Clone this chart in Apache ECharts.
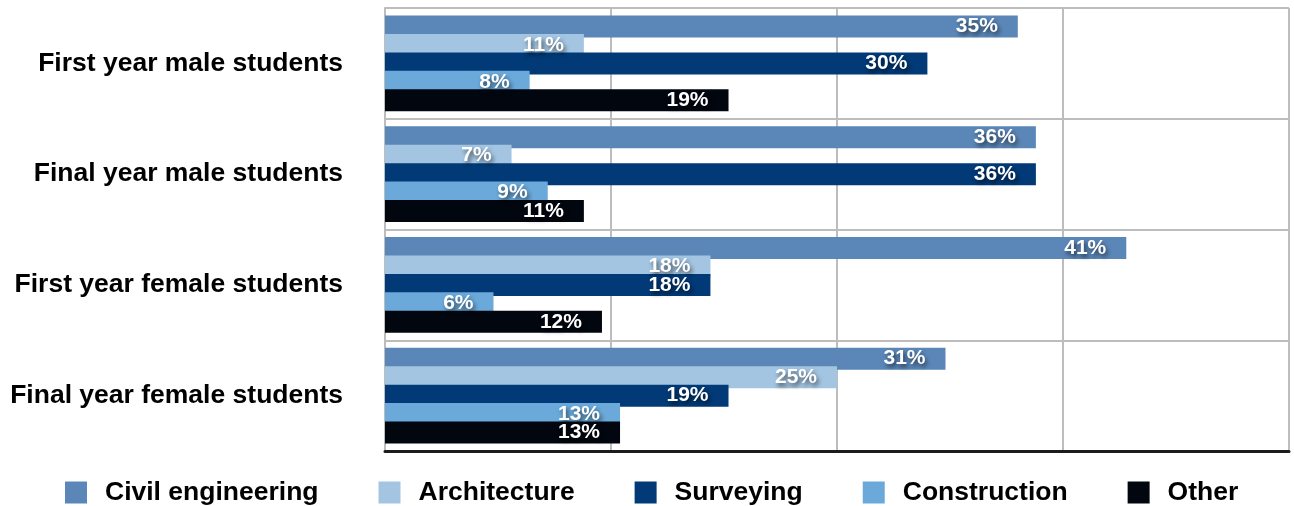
<!DOCTYPE html>
<html>
<head>
<meta charset="utf-8">
<style>
  html, body { margin: 0; padding: 0; background: #ffffff; }
  #chart { width: 1294px; height: 506px; }
</style>
<script src="https://cdn.jsdelivr.net/npm/echarts@6/dist/echarts.min.js"></script>
</head>
<body>
<div id="chart"></div>
<script>
// Student groups (top to bottom)
const categories = [
  'First year male students',
  'Final year male students',
  'First year female students',
  'Final year female students'
];

// Share of students per discipline, in percent
const civilEngineering = [35, 36, 41, 31];
const architecture     = [11, 7, 18, 25];
const surveying        = [30, 36, 18, 19];
const construction     = [8, 9, 6, 13];
const other            = [19, 11, 12, 13];

const seriesNames  = ['Civil engineering', 'Architecture', 'Surveying', 'Construction', 'Other'];
const seriesValues = [civilEngineering, architecture, surveying, construction, other];
const seriesColors = ['#5b87b8', '#a4c5e1', '#013a77', '#6aa9d9', '#02060f'];

const FONT = '"Liberation Sans", Arial, Helvetica, sans-serif';

const chart = echarts.init(document.getElementById('chart'), null, { renderer: 'canvas' });

chart.setOption({
  animation: false,
  backgroundColor: '#ffffff',
  grid: { left: 385, right: 5, top: 8, bottom: 55, containLabel: false },
  legend: {
    data: seriesNames,
    left: 60,
    top: 474,
    icon: 'rect',
    itemWidth: 22,
    itemHeight: 22,
    itemGap: 60,
    textStyle: {
      fontFamily: FONT,
      fontSize: 26.5,
      fontWeight: 'bold',
      color: '#000000',
      padding: [0, 0, 0, 13]
    }
  },
  xAxis: {
    type: 'value',
    min: 0,
    max: 50,
    interval: 12.5,
    axisLabel: { show: false },
    axisTick: { show: false },
    axisLine: { show: true, onZero: false, lineStyle: { color: '#1c1c1c', width: 3 } },
    splitLine: { show: true, lineStyle: { color: '#bdbdbd', width: 2 } }
  },
  yAxis: {
    type: 'category',
    data: categories,
    inverse: true,
    axisTick: { show: false },
    axisLine: { show: true, lineStyle: { color: '#bdbdbd', width: 2 } },
    splitLine: { show: true, lineStyle: { color: '#bdbdbd', width: 2 } },
    axisLabel: {
      margin: 42,
      fontFamily: FONT,
      fontSize: 26.5,
      fontWeight: 'bold',
      color: '#000000'
    }
  },
  series: seriesNames.map((name, i) => ({
    name: name,
    type: 'bar',
    data: seriesValues[i],
    barWidth: 22,
    barGap: '-16%',
    itemStyle: { color: seriesColors[i] },
    label: {
      show: true,
      position: 'insideRight',
      distance: 20,
      formatter: '{c}%',
      fontFamily: FONT,
      fontSize: 21,
      fontWeight: 'bold',
      color: '#ffffff',
      textShadowColor: 'rgba(0,0,0,0.6)',
      textShadowBlur: 4,
      textShadowOffsetX: 2,
      textShadowOffsetY: 3
    }
  }))
});
</script>
</body>
</html>
